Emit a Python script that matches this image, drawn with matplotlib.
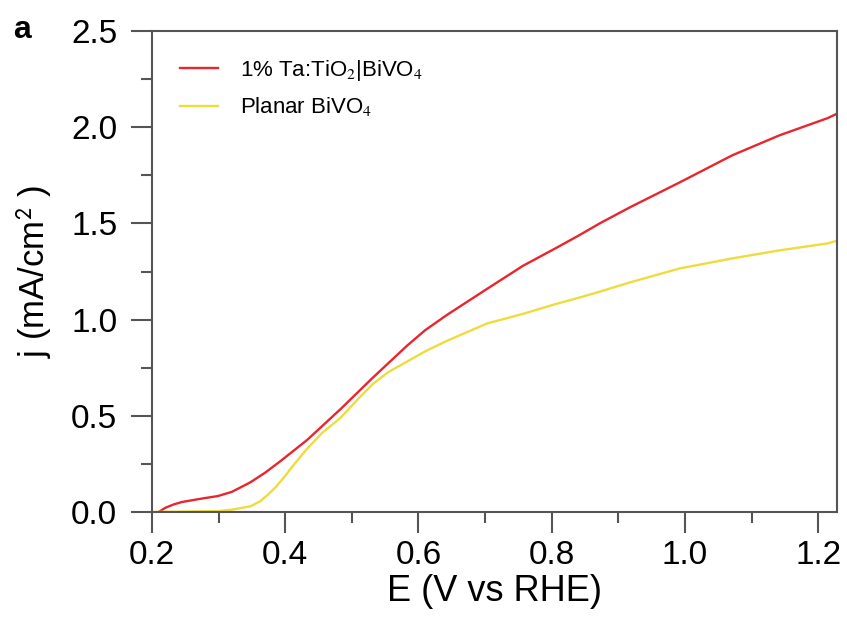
import matplotlib.pyplot as plt
from matplotlib.ticker import MultipleLocator

plt.rcParams["font.family"] = ["Liberation Sans", "DejaVu Sans"]
plt.rcParams["mathtext.fontset"] = "stix"

# 1% Ta:TiO2|BiVO4
E_RED = [0.21, 0.22, 0.233, 0.245, 0.275, 0.299, 0.32, 0.348, 0.37, 0.393,
         0.433, 0.483, 0.532, 0.583, 0.61, 0.643, 0.703, 0.757, 0.808, 0.842,
         0.872, 0.917, 0.992, 1.071, 1.142, 1.214, 1.228]
J_RED = [0.0, 0.022, 0.04, 0.052, 0.07, 0.083, 0.105, 0.155, 0.205, 0.265,
         0.375, 0.535, 0.70, 0.865, 0.945, 1.025, 1.16, 1.28, 1.375, 1.44,
         1.50, 1.583, 1.713, 1.854, 1.958, 2.047, 2.07]

# Planar BiVO4
E_YEL = [0.2, 0.3, 0.32, 0.348, 0.362, 0.374, 0.386, 0.398, 0.415, 0.433,
         0.455, 0.483, 0.51, 0.532, 0.555, 0.583, 0.61, 0.643, 0.703, 0.757,
         0.808, 0.842, 0.872, 0.917, 0.992, 1.071, 1.142, 1.214, 1.228]
J_YEL = [0.0, 0.005, 0.012, 0.03, 0.055, 0.09, 0.13, 0.18, 0.255, 0.33,
         0.41, 0.49, 0.59, 0.667, 0.728, 0.782, 0.835, 0.89, 0.98, 1.03,
         1.083, 1.115, 1.145, 1.193, 1.266, 1.318, 1.36, 1.396, 1.41]

LABELS = ["1% Ta:TiO$_2$|BiVO$_4$", "Planar BiVO$_4$"]

fig = plt.figure(figsize=(8.47, 6.28), dpi=100)
ax = fig.add_axes([0.1795, 0.1847, 0.8085, 0.7659])

ax.plot(E_RED, J_RED, color="#e8262e", lw=1.7, label=LABELS[0])
ax.plot(E_YEL, J_YEL, color="#eedc3c", lw=1.7, label=LABELS[1])

ax.set_xlim(0.2, 1.228)
ax.set_ylim(0, 2.5)
ax.xaxis.set_major_locator(MultipleLocator(0.2))
ax.xaxis.set_minor_locator(MultipleLocator(0.1))
ax.yaxis.set_major_locator(MultipleLocator(0.5))
ax.yaxis.set_minor_locator(MultipleLocator(0.25))
ax.xaxis.set_major_formatter(plt.FuncFormatter(lambda v, _: f"{v:.1f}"))
ax.yaxis.set_major_formatter(plt.FuncFormatter(lambda v, _: f"{v:.1f}"))

for s in ax.spines.values():
    s.set_color("#555555")
    s.set_linewidth(1.5)
ax.tick_params(which="major", direction="out", length=15, width=1.5,
               color="#555555", labelsize=24)
ax.tick_params(which="minor", direction="out", length=8, width=1.5,
               color="#555555")
ax.tick_params(axis="x", which="major", pad=5)
ax.tick_params(axis="y", which="major", pad=10)

ax.set_xlabel("E (V vs RHE)", fontsize=26, labelpad=2)
ax.set_ylabel("j (mA/cm$^{\\mathsf{2}}$ )", fontsize=25, labelpad=12)

ax.legend(loc="upper left", frameon=False, fontsize=16, handlelength=1.7,
          handletextpad=1.0, labelspacing=0.55,
          bbox_to_anchor=(0.012, 0.985))

fig.text(0.016, 0.953, "a", fontsize=23, fontweight="bold", va="center")

fig.savefig("out.png", dpi=100)
